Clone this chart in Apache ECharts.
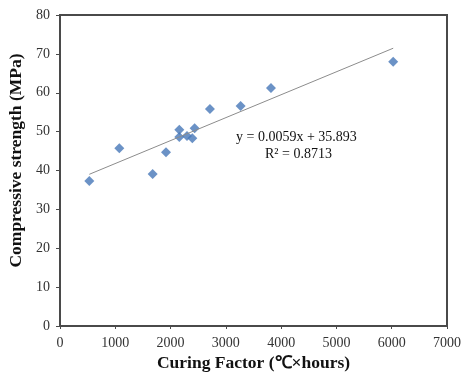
<!DOCTYPE html>
<html><head><meta charset="utf-8">
<script src="https://cdn.jsdelivr.net/npm/echarts@6/dist/echarts.min.js"></script>
<style>html,body{margin:0;padding:0;background:#fff}#c{width:462px;height:372px}</style>
</head><body><div id="c"></div>
<script>
const curingFactor = [530, 1073, 1676, 1917, 2158, 2158, 2297, 2393, 2435, 2712, 3267, 3816, 6027];
const strength = [37.3, 45.7, 39.1, 44.7, 50.5, 48.6, 48.9, 48.3, 50.9, 55.8, 56.6, 61.2, 68.0];
const slope = 0.0059, intercept = 35.893, r2 = 0.8713;
const trendX = [530, 6027];
const xTicks = [0, 1000, 2000, 3000, 4000, 5000, 6000, 7000];
const yTicks = [0, 10, 20, 30, 40, 50, 60, 70, 80];

const font = 'Liberation Serif, Times New Roman, serif';
const chart = echarts.init(document.getElementById('c'), null, {renderer: 'canvas'});
chart.setOption({
  animation: false,
  grid: {left: 60, right: 15, top: 15, bottom: 46, show: true, borderColor: '#4a4a4a', borderWidth: 2,
         containLabel: false, outerBoundsMode: 'none'},
  xAxis: {
    type: 'value', min: xTicks[0], max: xTicks[xTicks.length - 1], interval: 1000,
    name: 'Curing Factor (\u2103\u00d7hours)', nameLocation: 'middle', nameGap: 27,
    nameTextStyle: {fontFamily: font, fontWeight: 'bold', fontSize: 17.5, color: '#111'},
    axisLine: {show: true, lineStyle: {color: '#4a4a4a', width: 2}},
    axisTick: {show: true, length: 3, lineStyle: {color: '#4a4a4a'}},
    axisLabel: {fontFamily: font, fontSize: 14, color: '#333', margin: 10, formatter: v => String(v)},
    splitLine: {show: false}
  },
  yAxis: {
    type: 'value', min: yTicks[0], max: yTicks[yTicks.length - 1], interval: 10,
    name: 'Compressive strength (MPa)', nameLocation: 'middle', nameGap: 32,
    nameTextStyle: {fontFamily: font, fontWeight: 'bold', fontSize: 17.5, color: '#111', padding: [0, 0, 0, 20]},
    axisLine: {show: true, lineStyle: {color: '#4a4a4a', width: 2}},
    axisTick: {show: true, length: 4, lineStyle: {color: '#4a4a4a'}},
    axisLabel: {fontFamily: font, fontSize: 14, color: '#333', margin: 10, formatter: v => String(v)},
    splitLine: {show: false}
  },
  series: [
    {
      type: 'line',
      data: trendX.map(x => [x, slope * x + intercept]),
      symbol: 'none', silent: true,
      lineStyle: {color: '#8c8c8c', width: 1}
    },
    {
      type: 'scatter',
      data: curingFactor.map((x, i) => [x, strength[i]]),
      symbol: 'diamond', symbolSize: 10,
      itemStyle: {color: '#4677b8'}
    }
  ],
  graphic: [
    {type: 'text', left: 236, top: 130, style: {text: 'y = ' + slope + 'x + ' + intercept, font: '14px ' + font, fill: '#111'}},
    {type: 'text', left: 265, top: 147, style: {text: 'R\u00b2 = ' + r2, font: '14px ' + font, fill: '#111'}}
  ]
});
</script></body></html>
